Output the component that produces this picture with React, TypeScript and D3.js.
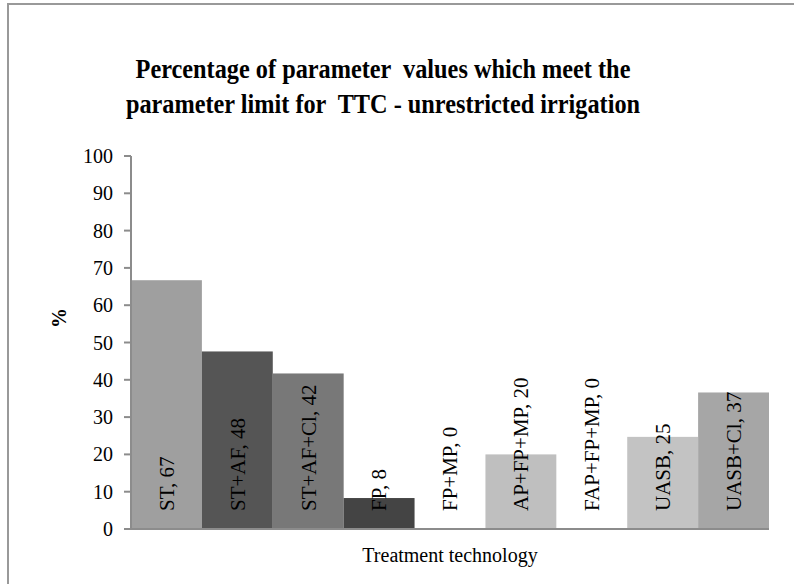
import React from "react";
import * as d3 from "d3";

const categories = ["ST", "ST+AF", "ST+AF+Cl", "FP", "FP+MP", "AP+FP+MP", "FAP+FP+MP", "UASB", "UASB+Cl"];
const values = [66.7, 47.6, 41.7, 8.3, 0, 20, 0, 24.7, 36.6];
const barColors = ["#9f9f9f", "#555555", "#787878", "#444444", "#ffffff", "#bfbfbf", "#ffffff", "#c3c3c3", "#a6a6a6"];
const yTicks = [0, 10, 20, 30, 40, 50, 60, 70, 80, 90, 100];
const titleLines = ["Percentage of parameter  values which meet the", "parameter limit for  TTC - unrestricted irrigation"];
const xTitle = "Treatment technology";
const yTitle = "%";

export default function App() {
  const W = 794, H = 584;
  const left = 131, right = 769, top = 156, bottom = 529;
  const x = d3.scaleBand<string>().domain(categories).range([left, right]).paddingInner(0).paddingOuter(0);
  const y = d3.scaleLinear().domain([0, 100]).range([bottom, top]);
  const font = "'Liberation Serif', 'Times New Roman', serif";
  const axisColor = "#8c8c8c";
  return (
    <svg width={W} height={H} style={{ position: "absolute", left: 0, top: 0, background: "#fff" }} fontFamily={font}>
      <rect x={0} y={0} width={W} height={H} fill="#fff" />
      <rect x={8} y={4} width={W + 20} height={H + 20} fill="none" stroke="#999" strokeWidth={2} />
      {titleLines.map((t, i) => (
        <text key={i} transform={`translate(383,${78 + i * 35}) scale(0.9,1)`} textAnchor="middle" fontWeight="bold" fontSize={27} style={{ whiteSpace: "pre" }}>
          {t}
        </text>
      ))}
      {categories.map((c, i) => (
        <rect key={c} x={x(c)!} y={y(values[i])} width={x.bandwidth()} height={bottom - y(values[i])} fill={barColors[i]} />
      ))}
      {yTicks.map((t) => (
        <g key={t}>
          <line x1={left - 7} x2={left} y1={y(t)} y2={y(t)} stroke={axisColor} strokeWidth={2} />
          <text x={113} y={y(t)} dy="0.35em" textAnchor="end" fontSize={20}>{t}</text>
        </g>
      ))}
      <line x1={left} x2={left} y1={top} y2={bottom} stroke={axisColor} strokeWidth={2} />
      <line x1={left - 7} x2={right} y1={bottom} y2={bottom} stroke={axisColor} strokeWidth={2} />
      {categories.map((c, i) => {
        const cx = x(c)! + x.bandwidth() / 2;
        return (
          <text key={c} transform={`translate(${cx},511) rotate(-90)`} dy="0.35em" fontSize={21}>
            {`${c}, ${Math.round(values[i])}`}
          </text>
        );
      })}
      <text x={(left + right) / 2} y={562} textAnchor="middle" fontSize={20}>{xTitle}</text>
      <text transform="translate(59,318) rotate(-90)" textAnchor="middle" dy="0.35em" fontWeight="bold" fontSize={20}>{yTitle}</text>
    </svg>
  );
}
